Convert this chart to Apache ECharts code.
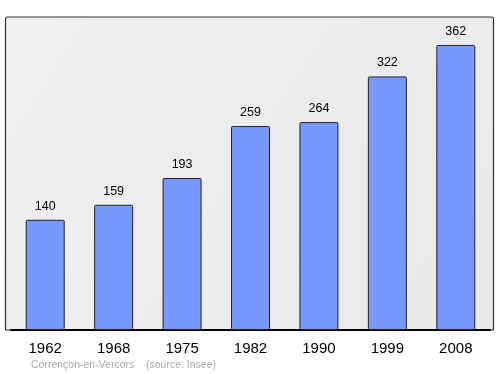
<!DOCTYPE html>
<html><head><meta charset="utf-8">
<script src="https://cdn.jsdelivr.net/npm/echarts@6/dist/echarts.min.js"></script>
<style>html,body{margin:0;padding:0;background:#fff}#c{width:500px;height:374px}</style>
</head><body><div id="c"></div>
<script>
var years = ['1962','1968','1975','1982','1990','1999','2008'];
var population = [140,159,193,259,264,322,362];
var footer = 'Corrençon-en-Vercors    (source: Insee)';
var chart = echarts.init(document.getElementById('c'), null, {renderer:'canvas'});
chart.setOption({
  animation:false,
  grid:{left:11,right:10,top:15,bottom:44},
  graphic:[
    {type:'rect',z:-10,shape:{x:5.5,y:17,width:488,height:313,r:[2,2,0,0]},
     style:{fill:{type:'linear',x:0,y:0,x2:1,y2:1,colorStops:[{offset:0,color:'#f0f0f0'},{offset:1,color:'#e9e9e9'}]},stroke:'#333',lineWidth:1.2}},
    {type:'text',left:31,top:359.5,style:{text:footer,fill:'#a8a8a8',font:'10.5px "Liberation Sans", Arial, sans-serif'}}
  ],
  xAxis:{type:'category',data:years,
    axisLine:{show:true,lineStyle:{color:'#000',width:2}},
    axisTick:{show:false},
    axisLabel:{color:'#000',fontSize:15,fontFamily:'"Liberation Sans", Arial, sans-serif',margin:11}},
  yAxis:{type:'value',min:0,max:400,show:false,splitLine:{show:false}},
  series:[{type:'bar',data:population,barWidth:39,
    itemStyle:{color:'#7799ff',borderColor:'#222',borderWidth:1,borderRadius:1},
    label:{show:true,position:'top',distance:7,color:'#000',fontSize:12.5,fontFamily:'"Liberation Sans", Arial, sans-serif'}}]
});
</script></body></html>
